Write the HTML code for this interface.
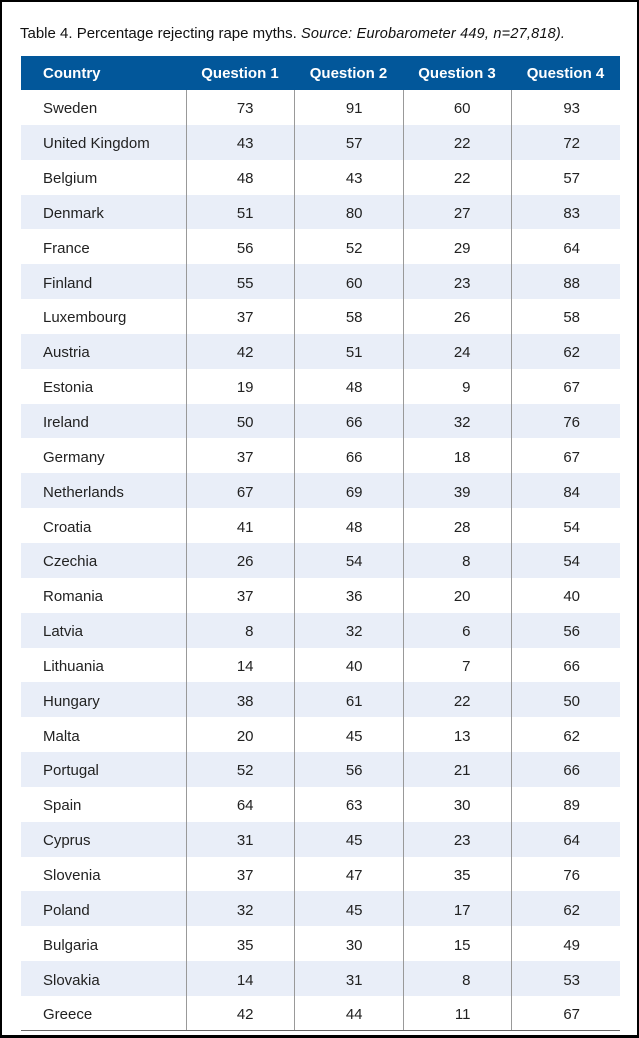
<!DOCTYPE html>
<html><head><meta charset="utf-8"><style>
html,body{margin:0;padding:0;background:#fff;}
body{width:639px;height:1038px;position:relative;overflow:hidden;font-family:"Liberation Sans",sans-serif;}
.frame{position:absolute;left:0;top:0;width:635px;height:1033px;border:2px solid #000;border-bottom-width:3px;}
.title{position:absolute;left:20px;top:25px;font-size:15px;color:#111;white-space:nowrap;}
.title i{font-size:14.5px;letter-spacing:0.2px;}
table{position:absolute;left:21px;top:56px;width:599px;border-collapse:collapse;font-size:15px;color:#222;}
th{background:#02579a;color:#fff;height:34px;font-weight:bold;text-align:center;padding:1px 0 0 0;box-sizing:border-box;}
th.c{text-align:left;padding-left:22px;}
td{height:34.85px;padding:3px 40px 0 0;box-sizing:border-box;text-align:right;border-left:1px solid #999;}
td.c{text-align:left;padding-left:22px;padding-right:0;border-left:none;}
tr.a td{background:#e9eef8;}
tr:last-child td{border-bottom:1px solid #666;}
</style></head><body>
<div class="frame"></div>
<div class="title">Table 4. Percentage rejecting rape myths. <i>Source: Eurobarometer 449, n=27,818).</i></div>
<table>
<colgroup><col style="width:165px"><col style="width:108px"><col style="width:109px"><col style="width:108px"><col style="width:109px"></colgroup>
<tr><th class="c">Country</th><th>Question 1</th><th>Question 2</th><th>Question 3</th><th>Question 4</th></tr>
<tr><td class="c">Sweden</td><td>73</td><td>91</td><td>60</td><td>93</td></tr>
<tr class="a"><td class="c">United Kingdom</td><td>43</td><td>57</td><td>22</td><td>72</td></tr>
<tr><td class="c">Belgium</td><td>48</td><td>43</td><td>22</td><td>57</td></tr>
<tr class="a"><td class="c">Denmark</td><td>51</td><td>80</td><td>27</td><td>83</td></tr>
<tr><td class="c">France</td><td>56</td><td>52</td><td>29</td><td>64</td></tr>
<tr class="a"><td class="c">Finland</td><td>55</td><td>60</td><td>23</td><td>88</td></tr>
<tr><td class="c">Luxembourg</td><td>37</td><td>58</td><td>26</td><td>58</td></tr>
<tr class="a"><td class="c">Austria</td><td>42</td><td>51</td><td>24</td><td>62</td></tr>
<tr><td class="c">Estonia</td><td>19</td><td>48</td><td>9</td><td>67</td></tr>
<tr class="a"><td class="c">Ireland</td><td>50</td><td>66</td><td>32</td><td>76</td></tr>
<tr><td class="c">Germany</td><td>37</td><td>66</td><td>18</td><td>67</td></tr>
<tr class="a"><td class="c">Netherlands</td><td>67</td><td>69</td><td>39</td><td>84</td></tr>
<tr><td class="c">Croatia</td><td>41</td><td>48</td><td>28</td><td>54</td></tr>
<tr class="a"><td class="c">Czechia</td><td>26</td><td>54</td><td>8</td><td>54</td></tr>
<tr><td class="c">Romania</td><td>37</td><td>36</td><td>20</td><td>40</td></tr>
<tr class="a"><td class="c">Latvia</td><td>8</td><td>32</td><td>6</td><td>56</td></tr>
<tr><td class="c">Lithuania</td><td>14</td><td>40</td><td>7</td><td>66</td></tr>
<tr class="a"><td class="c">Hungary</td><td>38</td><td>61</td><td>22</td><td>50</td></tr>
<tr><td class="c">Malta</td><td>20</td><td>45</td><td>13</td><td>62</td></tr>
<tr class="a"><td class="c">Portugal</td><td>52</td><td>56</td><td>21</td><td>66</td></tr>
<tr><td class="c">Spain</td><td>64</td><td>63</td><td>30</td><td>89</td></tr>
<tr class="a"><td class="c">Cyprus</td><td>31</td><td>45</td><td>23</td><td>64</td></tr>
<tr><td class="c">Slovenia</td><td>37</td><td>47</td><td>35</td><td>76</td></tr>
<tr class="a"><td class="c">Poland</td><td>32</td><td>45</td><td>17</td><td>62</td></tr>
<tr><td class="c">Bulgaria</td><td>35</td><td>30</td><td>15</td><td>49</td></tr>
<tr class="a"><td class="c">Slovakia</td><td>14</td><td>31</td><td>8</td><td>53</td></tr>
<tr><td class="c">Greece</td><td>42</td><td>44</td><td>11</td><td>67</td></tr>
</table>
</body></html>
